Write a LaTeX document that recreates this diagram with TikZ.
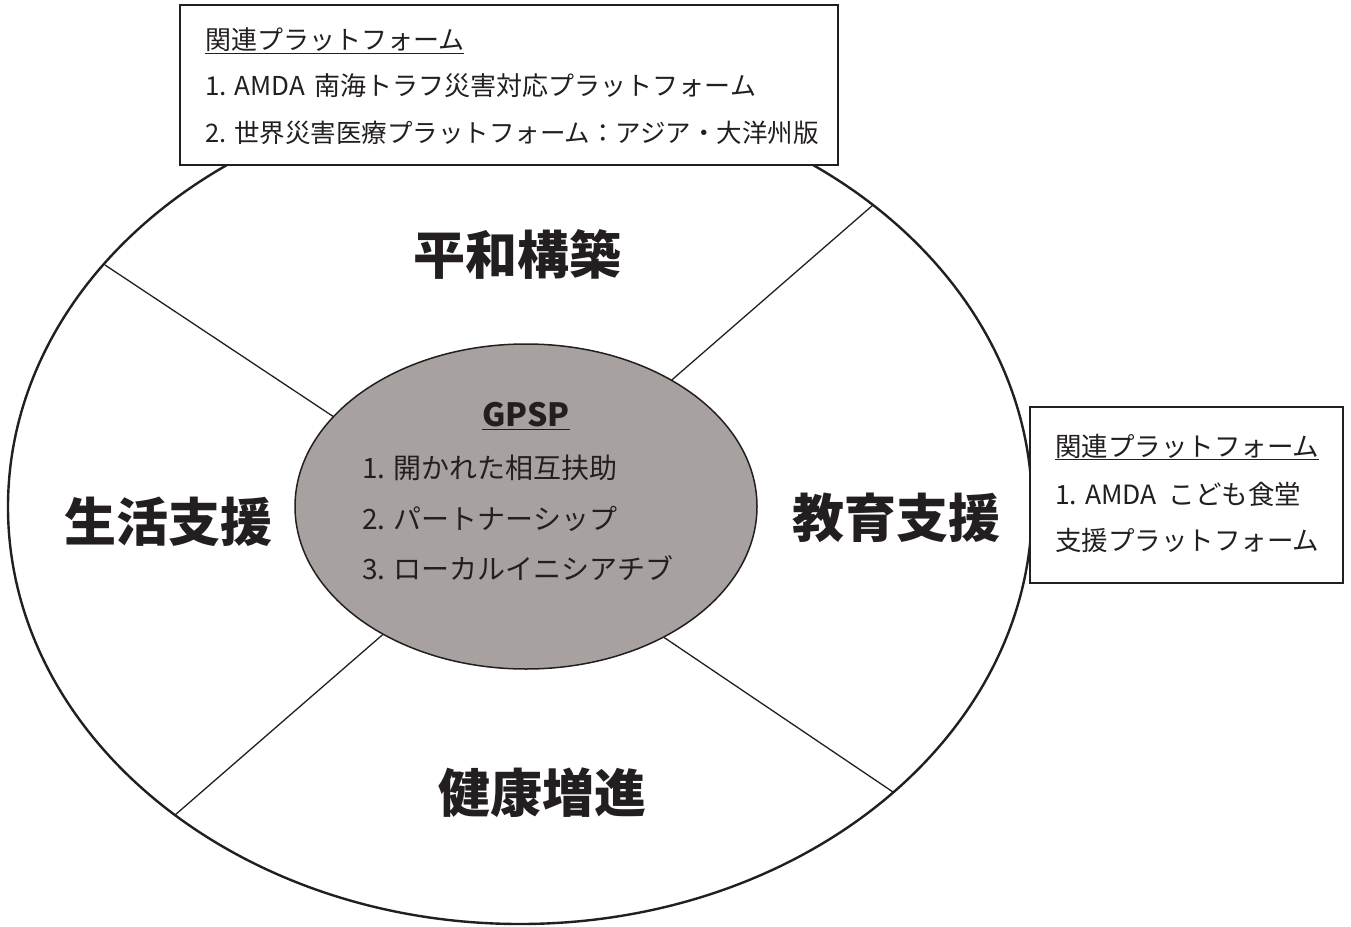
\documentclass[tikz,border=0pt]{standalone}
\usepackage{fontspec}
\setmainfont{Noto Sans CJK JP}
\usetikzlibrary{shapes.geometric}
\definecolor{ink}{RGB}{35,31,32}
\definecolor{core}{RGB}{167,162,159}
\begin{document}
\begin{tikzpicture}[x=1pt,y=-1pt,
  small/.style={font=\fontsize{26}{30}\selectfont, text=ink, inner sep=0pt, anchor=west},
  rsmall/.style={font=\fontsize{26.5}{30}\selectfont, text=ink, inner sep=0pt, anchor=west},
  big/.style={font=\fontsize{52}{60}\selectfont\bfseries, text=ink, inner sep=0pt},
  coretext/.style={font=\fontsize{28}{34}\selectfont, text=ink, inner sep=0pt, anchor=west},
  spoke/.style={draw=ink, line width=1.3pt},
  infobox/.style={draw=ink, line width=1.3pt, fill=white, inner sep=0pt, outer sep=0pt, anchor=north west}]
\useasboundingbox (0,0) rectangle (1351,926);
\fill[white] (0,0) rectangle (1351,926);
% outer ellipse
\node[ellipse, draw=ink, line width=2.4pt, fill=white, minimum width=1024pt, minimum height=834pt, inner sep=0pt, outer sep=0pt] (outer) at (520,507) {};
% spoke end points
\coordinate (oTL) at (105,265);
\coordinate (iTL) at (340,421);
\coordinate (oTR) at (873,205);
\coordinate (iTR) at (666,385);
\coordinate (oBL) at (175,815);
\coordinate (iBL) at (388,630);
\coordinate (oBR) at (893,792);
\coordinate (iBR) at (656,632);
\draw[spoke] (oTL) -- (iTL);
\draw[spoke] (oTR) -- (iTR);
\draw[spoke] (oBL) -- (iBL);
\draw[spoke] (oBR) -- (iBR);
% inner ellipse
\node[ellipse, draw=ink, line width=1.5pt, fill=core, minimum width=462pt, minimum height=325pt, inner sep=0pt, outer sep=0pt] (inner) at (526,506.5) {};
\node[font=\fontsize{32}{36}\selectfont\bfseries, text=ink, inner sep=0pt] (gpsp) at (526,416) {\underline{GPSP}};
\node[coretext] (c1) at (362,468) {1. 開かれた相互扶助};
\node[coretext] (c2) at (362,519) {2. パートナーシップ};
\node[coretext] (c3) at (362,568) {3. ローカルイニシアチブ};
% quadrant labels
\node[big] (peace) at (517,254) {平和構築};
\node[big] (life) at (168,522) {生活支援};
\node[big] (edu) at (896,518) {教育支援};
\node[big] (health) at (542,793) {健康増進};
% top box
\node[infobox, minimum width=658pt, minimum height=160pt] (topbox) at (180,5) {};
\node[small] (t0) at (205,41) {\underline{関連プラットフォーム}};
\node[small] (t1) at (205,86) {1. AMDA\hspace{4pt} 南海トラフ災害対応プラットフォーム};
\node[small, font=\fontsize{25.5}{30}\selectfont] (t2) at (205,133) {2. 世界災害医療プラットフォーム：アジア・大洋州版};
% right box
\node[infobox, minimum width=313pt, minimum height=176pt] (rightbox) at (1030,407) {};
\node[rsmall] (r0) at (1055,447) {\underline{関連プラットフォーム}};
\node[rsmall] (r1) at (1055,494) {1. AMDA\hspace{6pt} こども食堂};
\node[rsmall] (r2) at (1055,540) {支援プラットフォーム};
\end{tikzpicture}
\end{document}
